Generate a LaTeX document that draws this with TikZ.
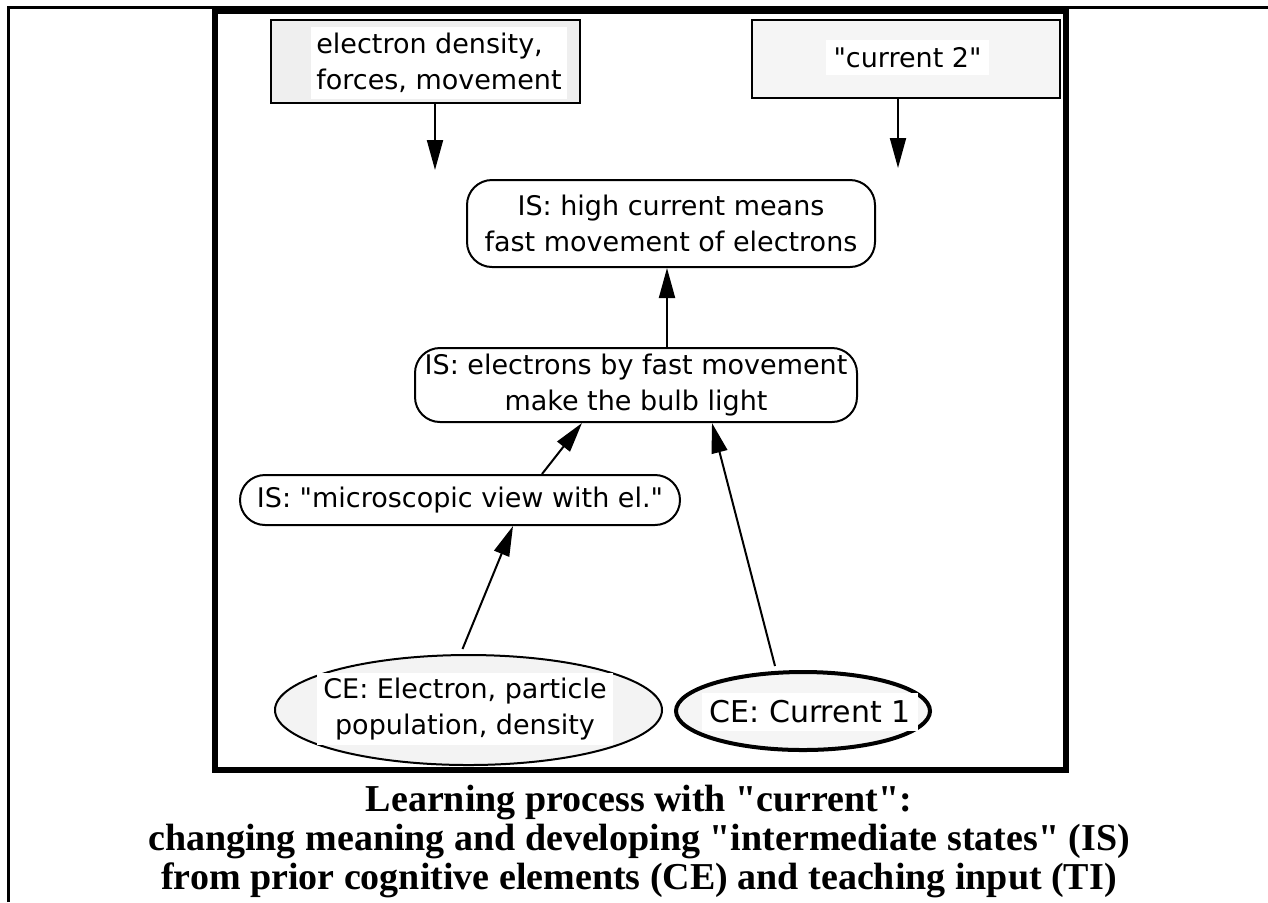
\documentclass[tikz,border=0pt]{standalone}
\usepackage{fontspec}
\setmainfont{Liberation Serif}[Ligatures=TeXOff]
\setsansfont{DejaVu Sans}[Ligatures=TeXOff]
\usepackage{xcolor}
\usetikzlibrary{
		calc,
		arrows.meta,
		shapes.geometric,
		positioning
	}
\definecolor{tifill}{HTML}{EFEFEF}
\definecolor{tifilltwo}{HTML}{F5F5F5}
\definecolor{cefill}{HTML}{F3F3F3}
\tikzset{
		>={Triangle[length=15pt,width=8pt]},
		conn/.style={->,line width=1pt},
		txt/.style={font=\sffamily\fontsize{13.5}{18}\selectfont},
		tibox/.style={draw,line width=1.2pt,inner sep=0pt},
		isbox/.style={txt,draw,rounded corners=12.5pt,line width=1pt,inner sep=0pt,align=center},
		cebox/.style={ellipse,draw,fill=cefill,inner sep=0pt},
		whitebg/.style={txt,fill=white,inner sep=0pt}
	}

\begin{document}
\begin{tikzpicture}[x=0.5pt,y=-0.5pt]
          \useasboundingbox (0,0) rectangle (1268,902);

          % frames
          \draw[line width=1.5pt] (8.5,902) -- (8.5,7.5) -- (1268,7.5);
          \draw[line width=3pt] (214.5,11) rectangle (1066,770);

          % teaching input
          \node[tibox,fill=tifill,minimum width=154.5pt,minimum height=41.5pt] (ti1) at (425.5,61.5) {};
          \node[whitebg,align=left,minimum width=128pt,minimum height=36pt] (ti1txt) at (439,63) {electron density,\\forces, movement};
          \node[tibox,fill=tifilltwo,minimum width=154pt,minimum height=39pt] (ti2) at (906,59) {};
          \node[whitebg,minimum width=81.5pt,minimum height=17.5pt] (ti2txt) at (907.5,57.5) {"current 2"};

          \coordinate (tip1) at (435,170);
          \coordinate (tip2) at (898,168);
          \draw[conn] (ti1.south -| tip1) -- (tip1);
          \draw[conn] (ti2.south -| tip2) -- (tip2);

          % intermediate states
          \node[isbox,minimum width=204pt,minimum height=43.5pt] (is1) at (671,223.5) {IS: high current means\\fast movement of electrons};
          \node[isbox,minimum width=221pt,minimum height=37pt] (is2) at (636,385) {IS: electrons by fast movement\\make the bulb light};
          \node[isbox,minimum width=220pt,minimum height=25pt] (is3) at (460,500) {IS: "microscopic view with el."};

          % cognitive elements
          \node[cebox,line width=1pt,minimum width=193.5pt,minimum height=55pt] (ce1) at (468.5,710) {};
          \node[whitebg,align=center,minimum width=148pt,minimum height=36pt] (ce1txt) at (465,709) {CE: Electron, particle\\population, density};
          \node[cebox,fill=tifilltwo,line width=2pt,minimum width=127pt,minimum height=39pt] (ce2) at (803,711) {};
          \node[whitebg,font=\sffamily\fontsize{15}{18}\selectfont,minimum width=108pt,minimum height=19pt] (ce2txt) at (810,712) {CE: Current 1};

          \draw[conn] ($(is2.north)+(31,0)$) -- ($(is1.south)+(-4,0)$);
          \draw[conn] ($(is3.north)+(82,0)$) -- ($(is2.south)+(-54,0)$);
          \draw[conn] ($(ce1.north)+(-6,-5)$) -- ($(is3.south)+(53,0)$);
          \draw[conn] ($(ce2.north)+(-28,-4)$) -- ($(is2.south)+(76,0)$);

          \node[font=\bfseries\fontsize{19}{19.5}\selectfont,align=center] (cap) at (639,841) {Learning process with "current":\\changing meaning and developing "intermediate states" (IS)\\from prior cognitive elements (CE) and teaching input (TI)};

          \end{tikzpicture}
\end{document}
